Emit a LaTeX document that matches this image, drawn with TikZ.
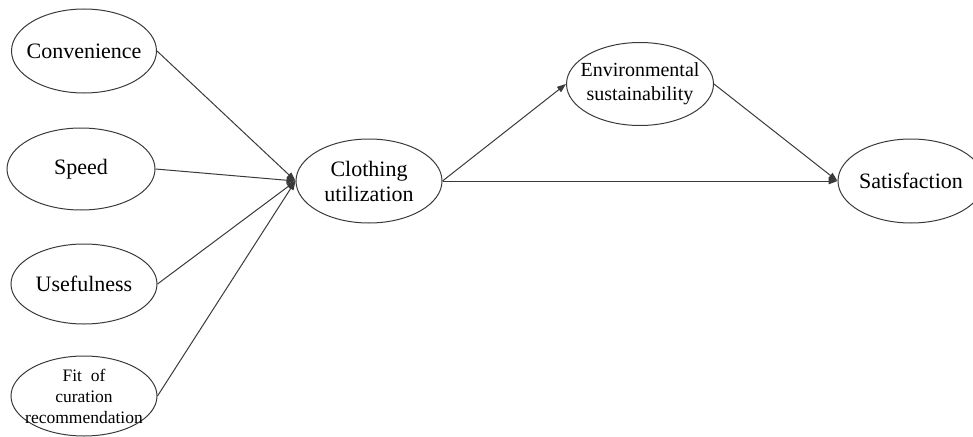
\documentclass[tikz,border=0pt]{standalone}
\usepackage{fontspec}
\setmainfont{Liberation Serif}
\usetikzlibrary{shapes.geometric,arrows.meta}
\definecolor{ink}{HTML}{3A3A3A}
\tikzset{
  ell/.style={draw=ink, line width=1pt, ellipse, inner sep=0pt, minimum width=146pt, minimum height=84pt},
  lbl/.style={inner sep=0pt, align=center, text=black},
  big/.style={font=\fontsize{22}{25}\selectfont},
  mid/.style={font=\fontsize{20}{24}\selectfont},
  sml/.style={font=\fontsize{17.5}{21}\selectfont},
  arr/.style={draw=ink, line width=1pt, -{Triangle[length=9pt,width=6.5pt]}}
}
\begin{document}
\begin{tikzpicture}[x=1pt,y=-1pt]
\useasboundingbox (0,0) rectangle (973,436);
\node[ell, minimum width=145pt, label={[lbl,big]center:Convenience}] (conv) at (84,51) {};
\node[ell, minimum width=148pt, minimum height=82pt, label={[lbl,big]center:Speed}] (speed) at (81,169) {};
\node[ell, minimum height=80pt, label={[lbl,big]center:Usefulness}] (use) at (84,284) {};
\node[ell, minimum height=80pt, label={[lbl,sml]center:Fit~ of\\curation\\recommendation}] (fit) at (84,396) {};
\node[ell, label={[lbl,big]center:Clothing\\utilization}] (cloth) at (369,181) {};
\node[ell, minimum width=147pt, minimum height=83pt, label={[lbl,mid]center:Environmental\\sustainability}] (env) at (640,84) {};
\node[ell, label={[lbl,big]center:Satisfaction}] (sat) at (911,181) {};
\draw[arr] (conv.east) -- (cloth.west);
\draw[arr] (speed.east) -- (cloth.west);
\draw[arr] (use.east) -- (cloth.west);
\draw[arr] (fit.east) -- (cloth.west);
\draw[arr] (cloth.east) -- (env.west);
\draw[arr] (cloth.east) -- (sat.west);
\draw[arr] (env.east) -- (sat.west);
\end{tikzpicture}
\end{document}
